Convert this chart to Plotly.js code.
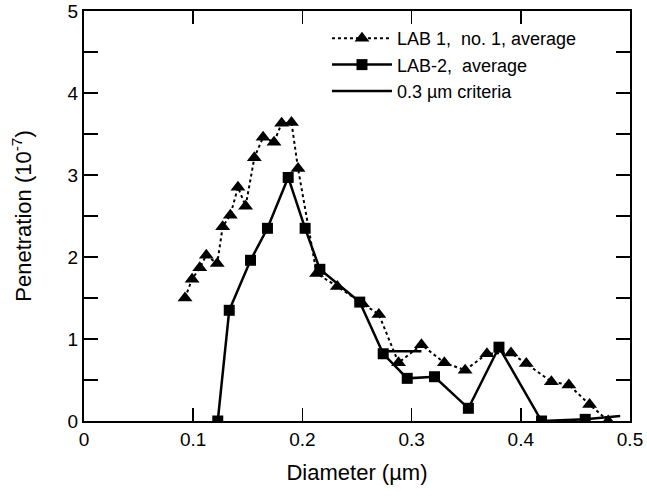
<!DOCTYPE html>
<html>
<head>
<meta charset="utf-8">
<script src="https://cdn.plot.ly/plotly-3.0.1.min.js"></script>
<style>html,body{margin:0;padding:0;background:#fff;}#chart{width:647px;height:497px;}</style>
</head>
<body>
<div id="chart"></div>
<script>
// LAB 1, no. 1, average (triangles, dotted)
const lab1X = [0.0925, 0.099, 0.106, 0.112, 0.122, 0.127, 0.134, 0.141, 0.148, 0.156, 0.164, 0.174, 0.181, 0.190, 0.196, 0.213, 0.232, 0.255, 0.270, 0.288, 0.309, 0.330, 0.349, 0.369, 0.391, 0.405, 0.428, 0.444, 0.463, 0.480];
const lab1Y = [1.50, 1.73, 1.87, 2.02, 1.92, 2.37, 2.51, 2.85, 2.62, 3.21, 3.46, 3.40, 3.63, 3.64, 3.08, 1.80, 1.64, 1.43, 1.30, 0.71, 0.93, 0.71, 0.62, 0.82, 0.83, 0.70, 0.48, 0.44, 0.20, 0.0];
// LAB-2, average (squares, solid)
const lab2X = [0.1225, 0.133, 0.1525, 0.168, 0.187, 0.2025, 0.216, 0.2525, 0.274, 0.296, 0.321, 0.352, 0.380, 0.419, 0.459];
const lab2Y = [0.0, 1.35, 1.96, 2.35, 2.97, 2.35, 1.85, 1.45, 0.82, 0.52, 0.54, 0.155, 0.90, 0.0, 0.02];
// LAB-2 line continuing to the right edge (no marker)
const lab2TailX = [0.459, 0.491];
const lab2TailY = [0.02, 0.06];
// 0.3 um criteria (solid line)
const critX = [0.274, 0.309];
const critY = [0.85, 0.85];

const xTicks = [0, 0.1, 0.2, 0.3, 0.4, 0.5];
const xTickText = ['0', '0.1', '0.2', '0.3', '0.4', '0.5'];
const yTicks = [0, 1, 2, 3, 4, 5];

const font = 'Liberation Sans, Arial, Helvetica, sans-serif';

const traces = [
  {x: lab1X, y: lab1Y, type: 'scatter', mode: 'lines+markers',
   name: 'LAB 1,\u00a0 no. 1, average',
   line: {color: '#000', width: 2, dash: 'dot'},
   marker: {symbol: 'triangle-up', size: 13, color: '#000', opacity: 1}},
  {x: lab2TailX, y: lab2TailY, type: 'scatter', mode: 'lines',
   showlegend: false, line: {color: '#000', width: 2.5}},
  {x: lab2X, y: lab2Y, type: 'scatter', mode: 'lines+markers',
   name: 'LAB-2,\u00a0 average',
   line: {color: '#000', width: 2.5},
   marker: {symbol: 'square', size: 11, color: '#000', opacity: 1}},
  {x: critX, y: critY, type: 'scatter', mode: 'lines',
   name: '0.3 \u00b5m criteria',
   line: {color: '#000', width: 2.5}}
];

const layout = {
  width: 647, height: 497,
  margin: {l: 84, r: 17, t: 11, b: 76},
  paper_bgcolor: '#fff', plot_bgcolor: '#fff',
  font: {family: font, color: '#000', size: 19},
  showlegend: true,
  legend: {x: 0.445, y: 0.978, xanchor: 'left', yanchor: 'top',
           bgcolor: 'rgba(0,0,0,0)', font: {size: 18, family: font},
           itemwidth: 60, tracegroupgap: 0},
  xaxis: {range: [0, 0.5], tickvals: xTicks, ticktext: xTickText,
          ticks: 'inside', ticklen: 13, tickwidth: 1.5, tickcolor: '#000',
          showline: true, linecolor: '#000', linewidth: 2, mirror: 'ticks',
          showgrid: false, zeroline: false,
          tickfont: {size: 19, family: font},
          title: {text: 'Diameter (\u00b5m)', font: {size: 22, family: font}, standoff: 16}},
  yaxis: {range: [0, 5], tickvals: yTicks,
          ticks: 'inside', ticklen: 14, tickwidth: 1.5, tickcolor: '#000',
          minor: {dtick: 0.5, ticks: 'inside', ticklen: 14, tickwidth: 1.5, tickcolor: '#000', showgrid: false},
          showline: true, linecolor: '#000', linewidth: 2, mirror: 'ticks',
          showgrid: false, zeroline: false,
          tickfont: {size: 19, family: font},
          title: {text: 'Penetration (10<sup>-7</sup>)', font: {size: 22, family: font}, standoff: 30}}
};

Plotly.newPlot('chart', traces, layout, {displayModeBar: false, staticPlot: true});
</script>
</body>
</html>
